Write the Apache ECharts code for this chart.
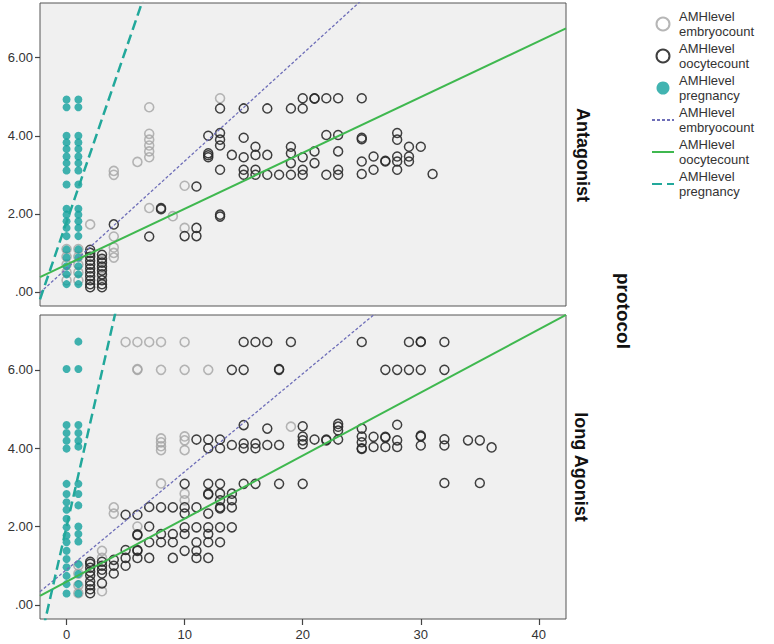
<!DOCTYPE html>
<html><head><meta charset="utf-8">
<script src="https://cdn.jsdelivr.net/npm/echarts@6/dist/echarts.min.js"></script>
<style>html,body{margin:0;padding:0;background:#fff}#c{width:774px;height:644px}</style>
</head><body><div id="c"></div>
<script>
// ---- axis / labels ----
const xTicks = [0, 10, 20, 30, 40];
const yTicks = [0, 2, 4, 6];
const yTickLabels = ['.00', '2.00', '4.00', '6.00'];
const panelLabels = ['Antagonist', 'long Agonist'];
const facetTitle = 'protocol';
const legendLabels = {
  embPts: 'AMHlevel\nembryocount', oocPts: 'AMHlevel\noocytecount', pregPts: 'AMHlevel\npregnancy',
  embFit: 'AMHlevel\nembryocount', oocFit: 'AMHlevel\noocytecount', pregFit: 'AMHlevel\npregnancy'
};

// ---- Antagonist panel ----
const antPregnancy = [
  [0,4.93],[0,4.73],[0,4.0],[0,3.83],[0,3.66],[0,3.47],[0,3.3],[0,3.11],[0,2.75],[0,2.13],[0,1.98],[0,1.81],[0,1.64],[0,1.43],[0,1.09],[0,0.88],[0,0.66],[0,0.45],[0,0.2],
  [1,4.93],[1,4.73],[1,4.0],[1,3.83],[1,3.66],[1,3.47],[1,3.3],[1,3.11],[1,2.75],[1,2.13],[1,1.98],[1,1.81],[1,1.64],[1,1.43],[1,1.09],[1,0.88],[1,0.66],[1,0.45],[1,0.2]
];
const antEmbryo = [
  [0,1.1],[0,0.9],[0,0.7],[0,0.5],[0,0.3],[1,1.1],[1,0.9],[1,0.7],[1,0.5],[1,0.3],
  [2,1.73],[3,0.8],[3,0.6],[3,0.4],
  [4,3.1],[4,3.0],[4,1.42],[4,1.14],[4,1.0],[4,0.88],
  [6,3.33],[7,4.73],[7,4.05],[7,3.9],[7,3.75],[7,3.6],[7,3.45],[7,2.15],
  [9,1.94],[10,2.72],[10,1.64],[13,4.96]
];
const antOocyte = [
  [2,1.08],[2,1.0],[2,0.9],[2,0.8],[2,0.7],[2,0.6],[2,0.5],[2,0.4],[2,0.3],[2,0.2],[2,0.12],
  [3,0.95],[3,0.85],[3,0.75],[3,0.65],[3,0.55],[3,0.45],[3,0.3],[3,0.2],[3,0.12],
  [4,1.73],[7,1.42],[8,2.15],[8,2.12],[10,1.43],[11,1.64],[11,1.43],[11,2.7],
  [12,4.0],[12,3.55],[12,3.5],[12,3.45],
  [13,4.7],[13,4.07],[13,3.9],[13,3.75],[13,3.13],[13,1.98],[13,1.93],
  [14,3.51],[15,4.7],[15,3.95],[15,3.45],[15,3.13],[15,3.0],
  [16,3.72],[16,3.51],[16,3.13],[16,3.0],[17,4.7],[17,3.51],[17,3.0],[18,3.0],
  [19,4.7],[19,3.72],[19,3.55],[19,3.3],[19,3.0],
  [20,4.96],[20,4.7],[20,3.45],[20,3.13],[20,3.0],
  [21,4.96],[21,4.95],[21,3.6],[21,3.3],[22,4.96],[22,4.02],[22,3.0],
  [23,4.96],[23,4.02],[23,3.6],[23,3.13],[23,3.0],
  [25,4.96],[25,3.91],[25,3.95],[25,3.34],[25,3.02],[26,3.47],[26,3.13],[27,3.34],[27,3.36],
  [28,4.07],[28,3.9],[28,3.47],[28,3.34],[28,3.13],[29,3.72],[29,3.47],[29,3.34],[30,3.72],[31,3.02]
];
// fitted lines: [intercept, slope]
const antEmbryoFit = [0.6, 0.275];
const antOocyteFit = [0.70, 0.143];
const antPregnancyFit = [1.79, 0.88];

// ---- long Agonist panel ----
const agoPregnancy = [
  [0,6.02],[0,4.59],[0,4.39],[0,4.19],[0,3.99],[0,3.09],[0,2.83],[0,2.62],[0,2.43],[0,2.2],[0,1.98],[0,1.77],[0,1.6],[0,1.38],[0,1.17],[0,0.96],[0,0.74],[0,0.53],[0,0.29],
  [1,6.72],[1,6.02],[1,4.59],[1,4.39],[1,4.19],[1,4.04],[1,3.09],[1,2.83],[1,2.54],[1,2.0],[1,1.81],[1,1.62],[1,1.04],[1,0.79],[1,0.53],[1,0.29]
];
const agoEmbryo = [
  [1,1.0],[1,0.8],[1,0.5],[1,0.3],[3,1.38],[3,1.2],[3,0.35],[4,2.49],[4,2.33],
  [5,6.71],[6,6.71],[7,6.71],[8,6.71],[10,6.71],
  [6,6.0],[6,6.02],[8,6.0],[10,6.0],[12,6.0],[6,2.0],
  [8,4.25],[8,4.15],[8,4.05],[8,3.95],[8,3.1],
  [10,4.3],[10,4.2],[10,3.95],[10,2.84],[10,2.67],[19,4.55]
];
const agoOocyte = [
  [2,1.1],[2,1.05],[2,0.95],[2,0.85],[2,0.75],[2,0.6],[2,0.5],[2,0.4],[2,0.3],
  [3,1.1],[3,1.0],[3,0.9],[3,0.8],[3,0.55],[4,1.15],[4,1.0],[4,0.8],
  [5,2.3],[5,1.4],[5,1.2],[5,1.0],[6,2.3],[6,1.8],[6,1.78],[6,1.4],[6,1.38],[6,1.2],
  [7,2.5],[7,2.0],[7,1.6],[7,1.2],[8,2.49],[8,1.81],[8,1.6],[9,2.49],[9,1.81],[9,1.6],[9,1.2],
  [10,3.09],[10,2.49],[10,2.33],[10,1.98],[10,1.81],[10,1.38],
  [11,4.22],[11,2.49],[11,1.98],[11,1.6],[11,1.38],[11,1.2],
  [12,4.22],[12,4.0],[12,3.09],[12,2.84],[12,2.82],[12,2.33],[12,1.98],[12,1.81],[12,1.6],[12,1.2],
  [13,4.22],[13,4.0],[13,3.09],[13,2.84],[13,2.67],[13,2.49],[13,2.46],[13,1.98],[13,1.6],
  [14,6.0],[14,4.08],[14,2.84],[14,2.67],[14,2.49],[14,1.98],
  [15,6.71],[15,6.0],[15,4.59],[15,4.12],[15,4.0],[15,3.09],[16,6.71],[16,4.12],[16,4.0],[16,3.09],
  [17,6.71],[17,4.5],[17,4.08],[18,6.0],[18,6.02],[18,4.08],[18,3.09],[19,6.71],
  [20,4.56],[20,4.3],[20,4.2],[20,4.1],[20,3.09],[21,4.22],[22,4.22],[22,4.2],
  [23,4.62],[23,4.55],[23,4.45],[23,4.22],
  [25,6.71],[25,4.5],[25,4.3],[25,4.15],[25,4.0],[25,3.98],[26,4.29],[26,4.03],
  [27,6.0],[27,4.29],[27,4.27],[27,4.03],[28,6.0],[28,4.6],[28,4.2],[28,4.03],
  [29,6.71],[29,6.0],[30,6.71],[30,6.72],[30,6.0],[30,4.3],[30,4.32],[30,4.07],
  [32,6.71],[32,6.0],[32,4.23],[32,4.07],[32,3.11],[34,4.2],[35,4.2],[35,3.11],[36,4.02]
];
const agoEmbryoFit = [0.9, 0.25];
const agoOocyteFit = [0.59, 0.161];
const agoPregnancyFit = [2.0, 1.32];

// ---- rendering ----
const XMIN = -2.25, XMAX = 42.3, YMIN = -0.36, YMAX = 7.4;
const FONT = "'Liberation Sans', Arial, sans-serif";
const fitLine = f => [[XMIN, f[0] + f[1] * XMIN], [XMAX, f[0] + f[1] * XMAX]];

const cEmb = '#a4a4a4', cOoc = '#2a2a2a', cPreg = '#13a19d';
const cEmbFit = '#6e6eb8', cOocFit = '#3fb84f', cPregFit = '#22a89b';

function panelSeries(i, emb, ooc, preg, fe, fo, fp) {
  const base = { xAxisIndex: i, yAxisIndex: i, silent: true };
  return [
    Object.assign({ type: 'scatter', name: 'embPts', data: emb, symbol: 'circle', symbolSize: 9, z: 2,
      itemStyle: { color: 'rgba(0,0,0,0)', borderColor: cEmb, borderWidth: 1.6 } }, base),
    Object.assign({ type: 'scatter', name: 'oocPts', data: ooc, symbol: 'circle', symbolSize: 9, z: 3,
      itemStyle: { color: 'rgba(0,0,0,0)', borderColor: cOoc, borderWidth: 1.5, opacity: 0.9 } }, base),
    Object.assign({ type: 'scatter', name: 'pregPts', data: preg, symbol: 'circle', symbolSize: 8, z: 4,
      itemStyle: { color: cPreg } }, base),
    Object.assign({ type: 'line', name: 'embFit', data: fitLine(fe), symbol: 'none', clip: true, z: 5,
      lineStyle: { color: cEmbFit, width: 1.3, type: [3, 2] }, itemStyle: { color: cEmbFit } }, base),
    Object.assign({ type: 'line', name: 'oocFit', data: fitLine(fo), symbol: 'none', clip: true, z: 5,
      lineStyle: { color: cOocFit, width: 2, type: 'solid' }, itemStyle: { color: cOocFit } }, base),
    Object.assign({ type: 'line', name: 'pregFit', data: fitLine(fp), symbol: 'none', clip: true, z: 5,
      lineStyle: { color: cPregFit, width: 2.5, type: [10, 5] }, itemStyle: { color: cPregFit } }, base)
  ];
}

const gridStyle = { show: true, backgroundColor: '#f0f0f0', borderColor: '#555', borderWidth: 1 };
const yAxisCfg = i => ({
  gridIndex: i, type: 'value', min: YMIN, max: YMAX, position: 'left',
  axisLine: { show: false, onZero: false }, splitLine: { show: false },
  axisTick: { show: true, length: 5, customValues: yTicks, lineStyle: { color: '#444', width: 1.2 } },
  axisLabel: { customValues: yTicks, margin: 7, fontSize: 13, color: '#333', fontFamily: FONT,
    formatter: v => yTickLabels[yTicks.indexOf(v)] }
});

const option = {
  animation: false,
  backgroundColor: '#fff',
  grid: [
    Object.assign({ left: 40, top: 3, width: 526, height: 303 }, gridStyle),
    Object.assign({ left: 40, top: 315, width: 526, height: 304 }, gridStyle)
  ],
  xAxis: [
    { gridIndex: 0, type: 'value', min: XMIN, max: XMAX, show: false, axisLine: { onZero: false } },
    { gridIndex: 1, type: 'value', min: XMIN, max: XMAX, position: 'bottom',
      axisLine: { show: false, onZero: false }, splitLine: { show: false },
      axisTick: { show: true, length: 6, customValues: xTicks, lineStyle: { color: '#444', width: 1.2 } },
      axisLabel: { customValues: xTicks, margin: 9, fontSize: 13, color: '#333', fontFamily: FONT } }
  ],
  yAxis: [yAxisCfg(0), yAxisCfg(1)],
  legend: {
    orient: 'vertical', left: 646, top: 4, itemWidth: 22, itemHeight: 13, itemGap: 2,
    selectedMode: false,
    data: [
      { name: 'embPts' }, { name: 'oocPts' }, { name: 'pregPts' },
      { name: 'embFit', itemStyle: { opacity: 0 } },
      { name: 'oocFit', itemStyle: { opacity: 0 } },
      { name: 'pregFit', itemStyle: { opacity: 0 } }
    ],
    formatter: n => legendLabels[n],
    textStyle: { fontSize: 13, lineHeight: 15, color: '#333', fontFamily: FONT }
  },
  graphic: [
    { type: 'text', x: 583, y: 155, rotation: -Math.PI / 2,
      style: { text: panelLabels[0], font: "bold 18px " + FONT, fill: '#111', align: 'center', verticalAlign: 'middle' } },
    { type: 'text', x: 581, y: 467, rotation: -Math.PI / 2,
      style: { text: panelLabels[1], font: "bold 18px " + FONT, fill: '#111', align: 'center', verticalAlign: 'middle' } },
    { type: 'text', x: 623, y: 311, rotation: -Math.PI / 2,
      style: { text: facetTitle, font: "bold 19px " + FONT, fill: '#111', align: 'center', verticalAlign: 'middle' } }
  ],
  series: [].concat(
    panelSeries(0, antEmbryo, antOocyte, antPregnancy, antEmbryoFit, antOocyteFit, antPregnancyFit),
    panelSeries(1, agoEmbryo, agoOocyte, agoPregnancy, agoEmbryoFit, agoOocyteFit, agoPregnancyFit)
  )
};
const chart = echarts.init(document.getElementById('c'), null, { renderer: 'svg' });
chart.setOption(option);
</script>
</body></html>
